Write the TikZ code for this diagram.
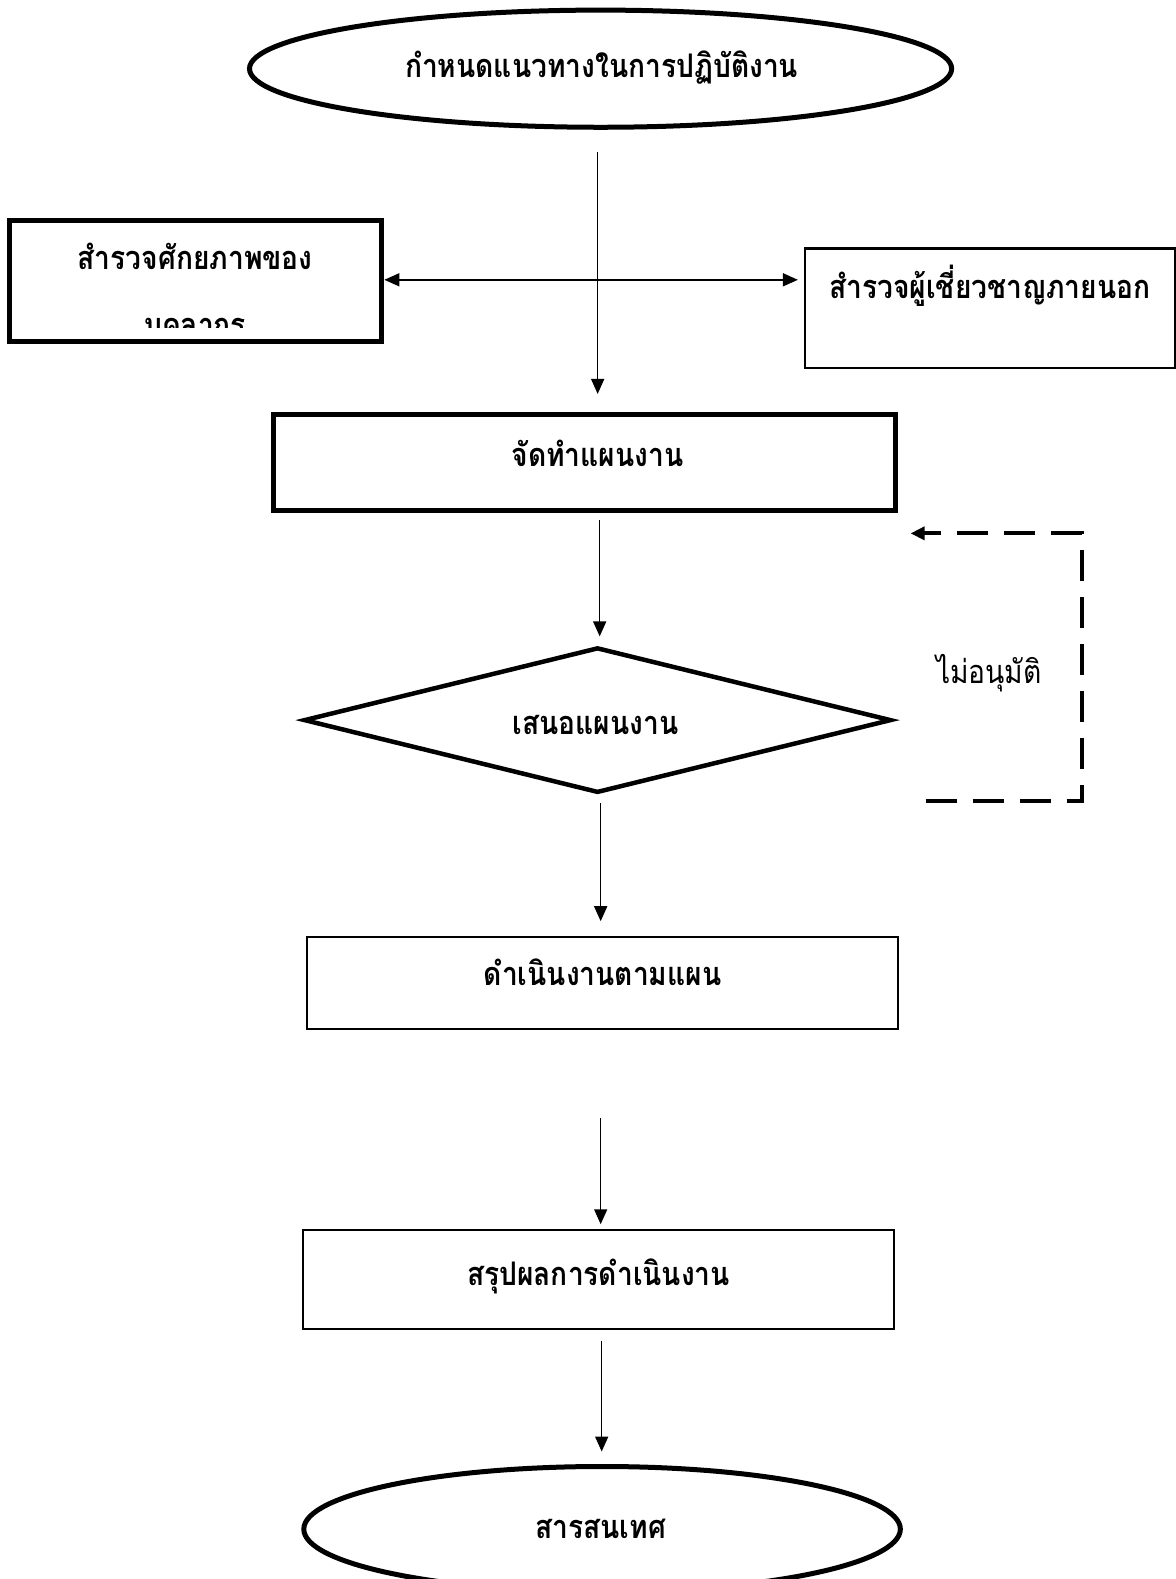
\documentclass[tikz,border=0pt]{standalone}
\usepackage{fontspec}
\newfontfamily\thaifont[Script=Thai]{Loma}
\usetikzlibrary{shapes.geometric,arrows.meta}
\tikzset{
  txt/.style={font=\thaifont\bfseries\fontsize{28}{32}\selectfont, inner sep=0pt, anchor=base, yscale=1.15},
  thickbox/.style={draw, line width=5pt, rectangle, inner sep=0pt},
  thinbox/.style={draw, line width=2.2pt, rectangle, inner sep=0pt},
  oval/.style={draw, line width=5pt, ellipse, inner sep=0pt},
  flow/.style={line width=1.6pt, -{Triangle[length=15pt,width=13pt]}},
  both/.style={line width=1.6pt, {Triangle[length=15pt,width=13pt]}-{Triangle[length=15pt,width=13pt]}},
  loop/.style={line width=4pt, dash pattern=on 31pt off 16pt, -{Triangle[length=14pt,width=13pt]}},
}
\begin{document}
\begin{tikzpicture}[x=1pt,y=-1pt,xscale=1.006,yscale=1.01,every node/.append style={transform shape}]
\useasboundingbox (0,0) rectangle (1169,1563.4);
% top ellipse
\node[oval, minimum width=698pt, minimum height=116pt] (start) at (597,68) {};
\node[txt] (starttxt) at (598,77) {กำหนดแนวทางในการปฏิบัติงาน};
% left box (text clipped)
\begin{scope}
\clip (10,218) rectangle (378,324);
\node[txt] (ltxt1) at (194,267) {สำรวจศักยภาพของ};
\node[txt] (ltxt2) at (194,333) {บุคลากร};
\end{scope}
\node[thickbox, minimum width=370pt, minimum height=120pt] (lbox) at (194,278) {};
% right box
\node[thinbox, minimum width=368pt, minimum height=118pt] (rbox) at (984,305) {};
\node[txt] (rtxt) at (984,296) {สำรวจผู้เชี่ยวชาญภายนอก};
% plan box
\node[thickbox, minimum width=618pt, minimum height=95pt] (plan) at (581,457.5) {};
\node[txt] (plantxt) at (594,462) {จัดทำแผนงาน};
% diamond
\node[draw, line width=4.5pt, diamond, aspect=4.05, inner sep=0pt, minimum width=584pt, minimum height=144pt] (prop) at (594,713) {};
\node[txt] (proptxt) at (592,727) {เสนอแผนงาน};
% do box
\node[thinbox, minimum width=588pt, minimum height=91pt] (do) at (599,973.5) {};
\node[txt] (dotxt) at (599,976) {ดำเนินงานตามแผน};
% summary box
\node[thinbox, minimum width=588pt, minimum height=98pt] (sum) at (595,1267) {};
\node[txt] (sumtxt) at (595,1273) {สรุปผลการดำเนินงาน};
% bottom ellipse
\node[oval, minimum width=593pt, minimum height=124pt] (end) at (598.5,1514) {};
\node[txt] (endtxt) at (597,1523) {สารสนเทศ};
% label
\node[font=\thaifont\fontsize{28}{32}\selectfont, inner sep=0pt, anchor=base, yscale=1.15] (no) at (983,677) {ไม่อนุมัติ};
% connectors
\coordinate (a1s) at (594,150); \coordinate (a1e) at (594,390);
\draw[flow] (a1s) -- (a1e);
\coordinate (hl) at (382,277); \coordinate (hr) at (793,277);
\draw[both] (hl) -- (hr);
\coordinate (a2s) at (596,515); \coordinate (a2e) at (596,630);
\draw[flow] (a2s) -- (a2e);
\coordinate (a3s) at (597,795); \coordinate (a3e) at (597,912);
\draw[flow] (a3s) -- (a3e);
\coordinate (a4s) at (597,1107); \coordinate (a4e) at (597,1212);
\draw[flow] (a4s) -- (a4e);
\coordinate (a5s) at (598,1328); \coordinate (a5e) at (598,1437);
\draw[flow] (a5s) -- (a5e);
\coordinate (lp1) at (920,793); \coordinate (lp2) at (1075,793);
\coordinate (lp3) at (1075,528); \coordinate (lp4) at (905,528);
\draw[loop] (lp1) -- (lp2) -- (lp3) -- (lp4);
\end{tikzpicture}
\end{document}
